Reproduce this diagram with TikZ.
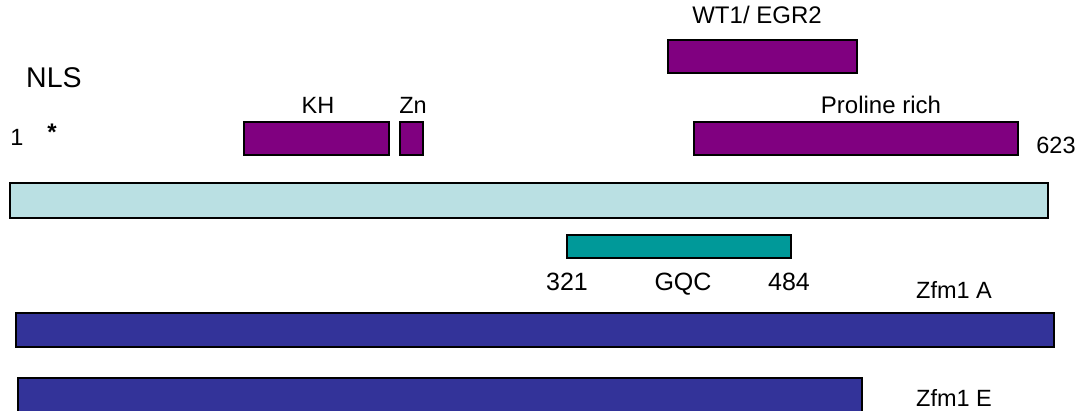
\documentclass[tikz,border=0pt]{standalone}
\usepackage{fontspec}
\setmainfont{Liberation Sans}
\definecolor{domain}{HTML}{800080}
\definecolor{protein}{HTML}{BAE0E3}
\definecolor{gqc}{HTML}{009999}
\definecolor{isoform}{HTML}{333399}
\tikzset{
  bar/.style={draw=black, line width=2pt, inner sep=0pt, outer sep=0pt, anchor=north west},
  lbl/.style={inner sep=0pt, anchor=base, font=\fontsize{23.5}{27}\selectfont},
  biglbl/.style={lbl, font=\fontsize{24}{28}\selectfont},
  poslbl/.style={lbl, font=\fontsize{25}{29}\selectfont},
}
% place a bar from (x1,y1) to (x2,y2) in pixel units (y downwards)
\newcommand{\barbox}[6]{%
  \node[bar, fill=#6, minimum width={(#4)-(#2)}, minimum height={(#5)-(#3)}] (#1) at (#2,#3) {};}
\begin{document}
\begin{tikzpicture}[x=1pt,y=-1pt]
\useasboundingbox (0,0) rectangle (1083,410);
\begin{scope}
\clip (0,0) rectangle (1083,410);
% domains
\barbox{wt}{668}{40}{857}{73}{domain}
\barbox{kh}{244}{122}{389}{155}{domain}
\barbox{zn}{400}{122}{423}{155}{domain}
\barbox{pro}{694}{122}{1018}{155}{domain}
% full-length protein
\barbox{full}{10}{183}{1048}{218}{protein}
% GQC region
\barbox{gq}{567}{235}{791}{258}{gqc}
% isoforms
\barbox{zfa}{16}{313}{1054}{347}{isoform}
\barbox{zfe}{18}{378}{862}{414}{isoform}
\end{scope}
% labels
\node[lbl, font=\fontsize{28.5}{32}\selectfont, anchor=base west] (nls) at (26,87) {NLS};
\node[lbl] (one) at (17,145) {1};
\node[lbl, font=\fontsize{24}{28}\selectfont\bfseries] (star) at (52,140) {*};
\node[lbl] (khl) at (318,113) {KH};
\node[lbl] (znl) at (413,113) {Zn};
\node[biglbl] (wtl) at (757,23) {WT1/ EGR2};
\node[biglbl] (prol) at (881,113) {Proline rich};
\node[lbl] (end) at (1056,153) {623};
\node[poslbl] (s321) at (567,290) {321};
\node[poslbl] (gql) at (683,290) {GQC};
\node[poslbl] (s484) at (789,290) {484};
\node[lbl] (zfal) at (954,298) {Zfm1 A};
\node[lbl] (zfel) at (954,406) {Zfm1 E};
\end{tikzpicture}
\end{document}
